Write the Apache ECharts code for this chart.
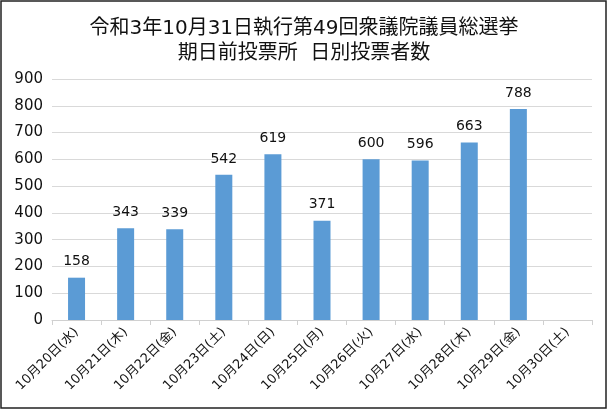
<!DOCTYPE html>
<html>
<head>
<meta charset="utf-8">
<script src="https://cdn.jsdelivr.net/npm/echarts@6/dist/echarts.min.js"></script>
<style>
html,body{margin:0;padding:0;background:#fff;}
#c{width:608px;height:410px;}
</style>
</head>
<body>
<div id="c"></div>
<script>
const titleLines = ['令和3年10月31日執行第49回衆議院議員総選挙', '期日前投票所  日別投票者数'];
const categories = ['10月20日(水)','10月21日(木)','10月22日(金)','10月23日(土)','10月24日(日)','10月25日(月)','10月26日(火)','10月27日(水)','10月28日(木)','10月29日(金)','10月30日(土)'];
const voters = [158, 343, 339, 542, 619, 371, 600, 596, 663, 788, null];
const yTicks = {min: 0, max: 900, interval: 100};

const FONT = '"DejaVu Sans", "Noto Sans CJK JP", sans-serif';
const chart = echarts.init(document.getElementById('c'), null, {renderer: 'canvas'});
chart.setOption({
  backgroundColor: '#fff',
  animation: false,
  title: {
    text: titleLines.join('\n'),
    left: 'center',
    top: 11,
    textStyle: {fontFamily: FONT, fontSize: 20, fontWeight: 'normal', color: '#111', lineHeight: 25}
  },
  graphic: [{
    type: 'rect',
    shape: {x: 1, y: 1, width: 605, height: 407},
    style: {fill: 'none', stroke: '#222', lineWidth: 1.5},
    silent: true
  }],
  grid: {left: 52, right: 16, top: 79, bottom: 90, containLabel: false},
  xAxis: {
    type: 'category',
    data: categories,
    axisLine: {lineStyle: {color: '#d0d0d0'}},
    axisTick: {show: true, alignWithLabel: false, length: 5, lineStyle: {color: '#d0d0d0'}},
    axisLabel: {rotate: 45, fontFamily: FONT, fontSize: 13, color: '#111', margin: 10, interval: 0}
  },
  yAxis: {
    type: 'value',
    min: yTicks.min, max: yTicks.max, interval: yTicks.interval,
    axisLine: {show: false},
    axisTick: {show: false},
    splitLine: {lineStyle: {color: '#d9d9d9'}},
    axisLabel: {fontFamily: FONT, fontSize: 15, color: '#111', margin: 9}
  },
  series: [{
    type: 'bar',
    data: voters,
    barWidth: 17,
    itemStyle: {color: '#5B9BD5'},
    label: {show: true, position: 'top', distance: 9, fontFamily: FONT, fontSize: 14, color: '#111'}
  }]
});
</script>
</body>
</html>
